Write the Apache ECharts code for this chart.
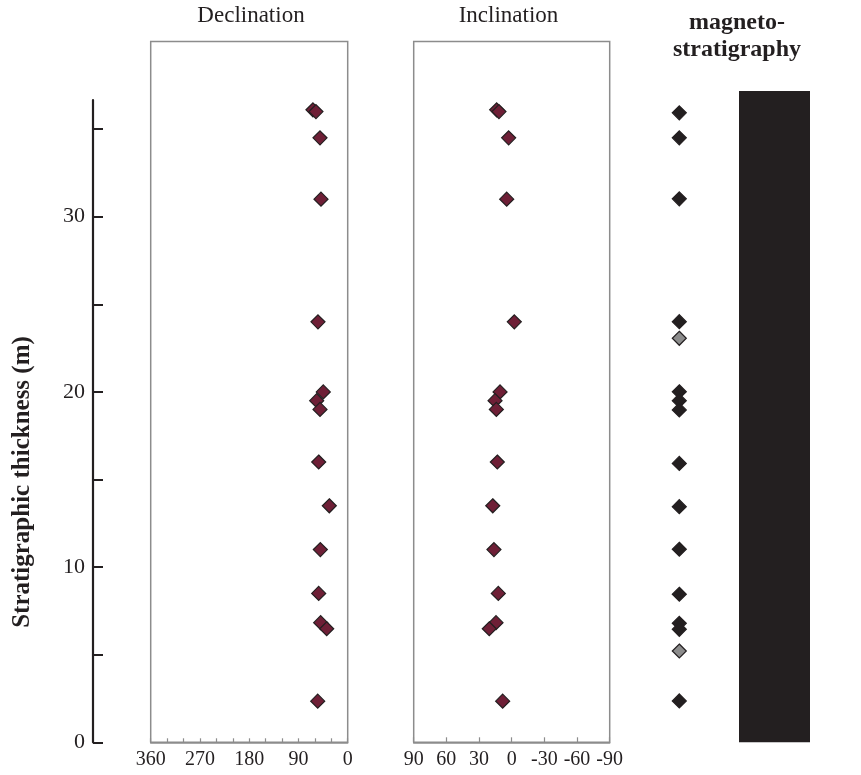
<!DOCTYPE html>
<html>
<head>
<meta charset="utf-8">
<script src="https://cdn.jsdelivr.net/npm/echarts@6/dist/echarts.min.js"></script>
<style>
  html, body { margin: 0; padding: 0; background: #ffffff; }
  #chart { width: 861px; height: 775px; }
</style>
</head>
<body>
<div id="chart"></div>
<script>
// ---- data ----
var sampleDepth = [36.1, 36.0, 34.5, 31.0, 24.0, 20.0, 19.5, 19.0, 16.0, 13.5, 11.0, 8.5, 6.83, 6.48, 2.35];
var declination = [63.5, 58, 50.6, 48.8, 54.3, 44.6, 56.7, 50.6, 53, 33.6, 50, 53, 49.4, 38.4, 54.8];
var inclination = [13.8, 11.7, 2.8, 4.6, -2.4, 10.7, 15.3, 14.1, 13.2, 17.4, 16.3, 12.3, 14.4, 20.6, 8.3];

var magnetoDepth = [35.93, 34.5, 31.02, 24.01, 23.06, 20.01, 19.5, 18.97, 15.92, 13.45, 11.02, 8.45, 6.79, 6.45, 5.21, 2.36];
var magnetoClass = ['N', 'N', 'N', 'N', 'U', 'N', 'N', 'N', 'N', 'N', 'N', 'N', 'N', 'N', 'U', 'N'];

var polarityZoneTop = [37.17];          // normal-polarity zone from 0 m up to this level
var thicknessTicks = [0, 5, 10, 15, 20, 25, 30, 35];
var thicknessLabels = [0, 10, 20, 30];
var declinationLabels = [0, 90, 180, 270, 360];
var inclinationLabels = [90, 60, 30, 0, -30, -60, -90];

// ---- styling ----
var SERIF = '"Liberation Serif", "Times New Roman", serif';
var INK = '#231f20';
var BOX = '#8c8c8c';
var MAROON = '#6e1f36';

var chart = echarts.init(document.getElementById('chart'), null, { renderer: 'canvas' });

function zip(xs, ys) { return xs.map(function (x, i) { return [x, ys[i]]; }); }

var hiddenY = function (idx) {
  return { gridIndex: idx, type: 'value', min: 0, max: 40, show: false };
};

var option = {
  backgroundColor: '#ffffff',
  animation: false,
  grid: [
    { left: 93, top: 100, bottom: 32.7, width: 10, show: false },                       // 0 thickness axis
    { left: 150.7, top: 41.5, bottom: 32.7, width: 197, show: true, borderColor: BOX, borderWidth: 1.5 }, // 1 declination
    { left: 413.7, top: 41.5, bottom: 32.7, width: 196, show: true, borderColor: BOX, borderWidth: 1.5 }, // 2 inclination
    { left: 669.3, top: 41.5, bottom: 32.7, width: 20, show: false },                  // 3 magneto points
    { left: 739, top: 41.5, bottom: 32.7, width: 71, show: false }                     // 4 polarity column
  ],
  xAxis: [
    { gridIndex: 0, type: 'value', show: false },
    {
      gridIndex: 1, type: 'value', min: 0, max: 360, interval: 30, inverse: true,
      splitLine: { show: false },
      axisLine: { show: true, lineStyle: { color: BOX, width: 1.5 } },
      axisTick: { show: true, inside: true, length: 4, lineStyle: { color: BOX, width: 1.2 } },
      axisLabel: { customValues: declinationLabels, color: INK, fontFamily: SERIF, fontSize: 20, margin: 7 }
    },
    {
      gridIndex: 2, type: 'value', min: -90, max: 90, interval: 30, inverse: true,
      splitLine: { show: false },
      axisLine: { show: true, lineStyle: { color: BOX, width: 1.5 } },
      axisTick: { show: true, inside: true, length: 5, lineStyle: { color: BOX, width: 1.2 } },
      axisLabel: { customValues: inclinationLabels, color: INK, fontFamily: SERIF, fontSize: 20, margin: 7 }
    },
    { gridIndex: 3, type: 'category', data: ['VGP'], show: false },
    { gridIndex: 4, type: 'category', data: ['polarity'], show: false }
  ],
  yAxis: [
    {
      gridIndex: 0, type: 'value', min: 0, max: 36.66, position: 'left',
      splitLine: { show: false },
      axisLine: { show: true, lineStyle: { color: INK, width: 2.2 } },
      axisTick: { show: true, inside: true, length: 10, customValues: thicknessTicks, lineStyle: { color: INK, width: 2 } },
      axisLabel: { customValues: thicknessLabels, color: INK, fontFamily: SERIF, fontSize: 22, margin: 8 }
    },
    hiddenY(1), hiddenY(2), hiddenY(3), hiddenY(4)
  ],
  graphic: [
    { type: 'text', x: 251, y: 16, style: { text: 'Declination', align: 'center', verticalAlign: 'middle', font: '23px ' + SERIF, fill: INK } },
    { type: 'text', x: 508.5, y: 16, style: { text: 'Inclination', align: 'center', verticalAlign: 'middle', font: '23px ' + SERIF, fill: INK } },
    { type: 'text', x: 737, y: 9, style: { text: 'magneto-\nstratigraphy', align: 'center', verticalAlign: 'top', lineHeight: 27, font: 'bold 24px ' + SERIF, fill: INK } },
    { type: 'text', x: 22.5, y: 482, rotation: Math.PI / 2, style: { text: 'Stratigraphic thickness (m)', align: 'center', verticalAlign: 'middle', font: 'bold 25px ' + SERIF, fill: INK } }
  ],
  series: [
    {
      name: 'Declination', type: 'scatter', xAxisIndex: 1, yAxisIndex: 1,
      symbol: 'diamond', symbolSize: 14,
      itemStyle: { color: MAROON, borderColor: INK, borderWidth: 1.2, opacity: 1 },
      data: zip(declination, sampleDepth)
    },
    {
      name: 'Inclination', type: 'scatter', xAxisIndex: 2, yAxisIndex: 2,
      symbol: 'diamond', symbolSize: 14,
      itemStyle: { color: MAROON, borderColor: INK, borderWidth: 1.2, opacity: 1 },
      data: zip(inclination, sampleDepth)
    },
    {
      name: 'VGP', type: 'scatter', xAxisIndex: 3, yAxisIndex: 3,
      symbol: 'diamond', symbolSize: 14,
      data: magnetoDepth.map(function (d, i) {
        var uncertain = magnetoClass[i] === 'U';
        return {
          value: [0, d],
          itemStyle: { color: uncertain ? '#8c8c8c' : INK, borderColor: INK, borderWidth: 1.2, opacity: 1 }
        };
      })
    },
    {
      name: 'Polarity', type: 'bar', xAxisIndex: 4, yAxisIndex: 4,
      barWidth: '100%', itemStyle: { color: INK },
      data: polarityZoneTop
    }
  ]
};

chart.setOption(option);
</script>
</body>
</html>
